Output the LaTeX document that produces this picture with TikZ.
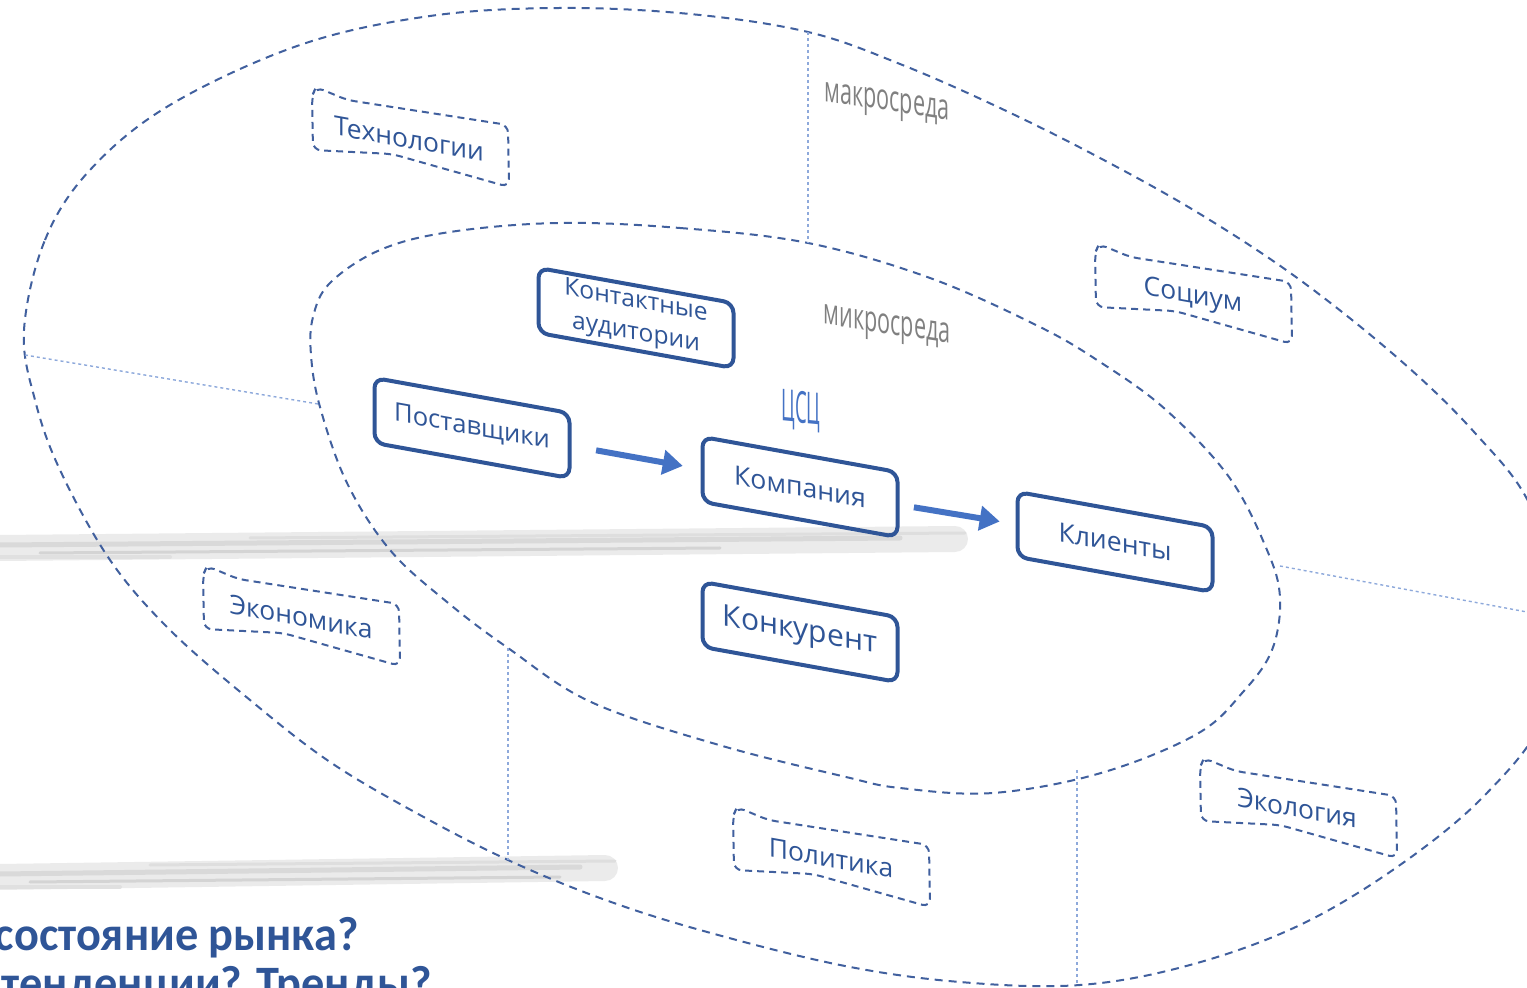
\documentclass[tikz,border=0pt]{standalone}
\usepackage{fontspec}
\setmainfont{Open Sans}
\newfontfamily\carl{Carlito}
\usetikzlibrary{arrows.meta}
\definecolor{dblue}{HTML}{2F5597}
\definecolor{eblue}{HTML}{41609E}
\definecolor{ablue}{HTML}{4472C4}
\definecolor{lblue}{HTML}{8EA9DB}
\definecolor{lgray}{HTML}{808080}
\begin{document}
\begin{tikzpicture}[x=0.5pt,y=-0.5pt,
  ell/.style={draw=eblue, line width=1pt, dash pattern=on 4pt off 3pt},
  divider/.style={draw=lblue, line width=0.7pt, dash pattern=on 1.5pt off 1.5pt},
  tape/.style={draw=eblue, line width=1pt, dash pattern=on 3.5pt off 2.5pt, rounded corners=4pt},
  tapetext/.style={text=dblue, font=\fontsize{13.2}{15}\selectfont, yslant=-0.18, inner sep=0},
  box/.style={draw=dblue, line width=2pt, rounded corners=5pt, minimum width=97.5pt, minimum height=32.5pt, yslant=-0.18, text=dblue, inner sep=0, align=center, font=\fontsize{13.3}{15}\selectfont},
  flow/.style={draw=ablue, line width=3pt, -{Triangle[length=10pt,width=12pt]}},
  hand/.style={font=\fontsize{18}{18}\selectfont, text=lgray, yslant=-0.15, xscale=0.6, inner sep=0},
  brush/.style={line cap=round},
  question/.style={anchor=base east, inner sep=0, text=dblue, xscale=0.965, font=\carl\bfseries\fontsize{24}{29}\selectfont}
]
\useasboundingbox (0,0) rectangle (1527,988);
\clip (0,0) rectangle (1527,988);

% brush strokes (background smears)
\draw[brush, draw=black!8, line width=13pt] (0,548) -- (955,539);
\draw[brush, draw=black!15, line width=2.5pt] (0,545) -- (900,538);
\draw[brush, draw=black!17, line width=1.5pt] (40,553) -- (720,548);
\draw[brush, draw=black!13, line width=1.5pt] (250,538) -- (965,533);
\draw[brush, draw=black!12, line width=2pt] (0,557) -- (170,557);
\draw[brush, draw=black!8, line width=13pt] (0,877) -- (605,868);
\draw[brush, draw=black!15, line width=2.5pt] (0,874) -- (580,867);
\draw[brush, draw=black!17, line width=1.5pt] (30,882) -- (560,877);
\draw[brush, draw=black!13, line width=1.5pt] (150,865) -- (615,861);
\draw[brush, draw=black!12, line width=2pt] (0,887) -- (120,887);

% outer (macro) and inner (micro) contours
\draw[ell] plot[smooth cycle, tension=0.6] coordinates {
 (24,330) (45,240) (90,170) (170,105) (300,45) (430,16) (560,8) (690,14) (808,32)
 (900,64) (1000,108) (1100,158) (1200,214) (1300,280) (1400,360) (1475,433) (1530,505)
 (1560,610) (1545,715) (1485,795) (1400,865) (1300,925) (1190,965) (1080,985) (960,982)
 (840,965) (700,930) (600,898) (508,860) (420,815) (330,762) (250,700) (170,630)
 (110,560) (60,470) (35,400)};
\draw[ell] plot[smooth cycle, tension=0.6] coordinates {
 (559,223) (680,228) (808,243) (930,278) (1038,326) (1100,362) (1165,409) (1229,477)
 (1267,550) (1280,598) (1272,650) (1243,692) (1197,734) (1101,773) (993,793) (900,788)
 (846,777) (719,745) (591,702) (508,648) (447,602) (390,550) (347,483) (320,407)
 (311,355) (313,317) (330,283) (380,250) (450,232)};

% dividers
\draw[divider] (808,32) -- (808,243);
\draw[divider] (25,355) -- (318,404);
\draw[divider] (508,648) -- (508,860);
\draw[divider] (1077,770) -- (1077,985);
\draw[divider] (1280,566) -- (1527,612);

% tapes (macro factors)
\foreach \x/\y in {312/87, 1095/244, 203/566, 733/807, 1200/758}{
  \draw[tape, shift={(\x,\y)}] (0,9) -- (4,0) -- (35,13) -- (196,38) -- (197,100) -- (80,67) -- (1,63) -- cycle;
}
\node[tapetext] (tech) at (409,139) {Технологии};
\node[tapetext] (soc) at (1193,297) {Социум};
\node[tapetext] (econ) at (301,617) {Экономика};
\node[tapetext] (pol) at (831,858) {Политика};
\node[tapetext] (eco) at (1297,808) {Экология};

% labels
\node[hand] (macro) at (887,105) {макросреда};
\node[hand] (micro) at (887,328) {микросреда};
\node[font=\fontsize{22}{22}\selectfont, text=ablue, yslant=-0.1, xscale=0.42, inner sep=0] (csc) at (801,411) {ЦСЦ};

% micro boxes
\node[box, font=\fontsize{12.3}{16}\selectfont] (cont) at (636,318) {Контактные\\аудитории};
\node[box, font=\fontsize{12.8}{15}\selectfont] (post) at (472,428) {Поставщики};
\node[box] (comp) at (800,487) {Компания};
\node[box] (cli) at (1115,542) {Клиенты};
\node[box, font=\fontsize{15}{17}\selectfont] (conc) at (800,632) {Конкурент};

\draw[flow, shorten <=12.5pt, shorten >=9pt] (post.east) -- (comp.west);
\draw[flow, shorten <=7.3pt, shorten >=8pt] (comp.east) -- (cli.west);

% question text
\node[question] (q1) at (359,950) {состояние рынка?};
\node[question] (q2) at (432,999) {тенденции? Тренды?};
\end{tikzpicture}
\end{document}
